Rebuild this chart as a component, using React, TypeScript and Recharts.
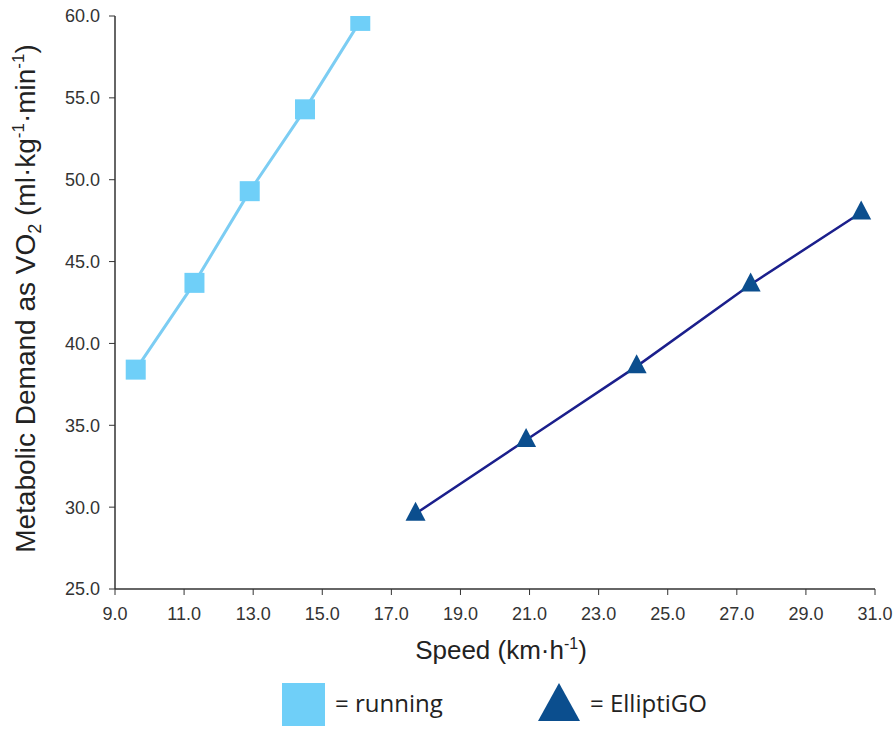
import { LineChart, Line, XAxis, YAxis, Legend } from "recharts";

const runningSpeed = [9.6, 11.3, 12.9, 14.5, 16.1];
const runningVO2 = [38.4, 43.7, 49.3, 54.3, 59.7];
const ellipticSpeed = [17.7, 20.9, 24.1, 27.4, 30.6];
const ellipticVO2 = [29.6, 34.1, 38.6, 43.6, 48.0];
const xTicks = [9, 11, 13, 15, 17, 19, 21, 23, 25, 27, 29, 31];
const yTicks = [25, 30, 35, 40, 45, 50, 55, 60];

const running = runningSpeed.map((x, i) => ({ x, y: runningVO2[i] }));
const elliptic = ellipticSpeed.map((x, i) => ({ x, y: ellipticVO2[i] }));

const RUN_LINE = "#7ccdf3";
const RUN_MARK = "#6fcff8";
const ELL_LINE = "#1b1f8c";
const ELL_MARK = "#0b4e8e";
const FONT = "Liberation Sans, Arial, sans-serif";

const SquareDot = (props: any) => {
  const { cx, cy, index } = props;
  return <rect key={index} x={cx - 10} y={cy - 10} width={20} height={20} fill={RUN_MARK} />;
};

const TriangleDot = (props: any) => {
  const { cx, cy, index } = props;
  return (
    <polygon
      key={index}
      points={`${cx},${cy - 12} ${cx + 10},${cy + 7} ${cx - 10},${cy + 7}`}
      fill={ELL_MARK}
    />
  );
};

const XLabel = (props: any) => {
  const { x, y, width } = props.viewBox;
  return (
    <text x={x + width / 2 + 6} y={y + 70} textAnchor="middle" fontSize={26} fill="#222" fontFamily={FONT}>
      Speed (km·h
      <tspan dy={-10} fontSize={16}>-1</tspan>
      <tspan dy={10}>)</tspan>
    </text>
  );
};

const YLabel = (props: any) => {
  const { y, height } = props.viewBox;
  const cx = 35;
  const cy = y + height / 2 - 4;
  return (
    <text
      x={cx}
      y={cy}
      transform={`rotate(-90, ${cx}, ${cy})`}
      textAnchor="middle"
      fontSize={28}
      fill="#222"
      fontFamily={FONT}
    >
      Metabolic Demand as VO
      <tspan dy={6} fontSize={18}>2</tspan>
      <tspan dy={-6}> (ml·kg</tspan>
      <tspan dy={-11} fontSize={17}>-1</tspan>
      <tspan dy={11}>·min</tspan>
      <tspan dy={-11} fontSize={17}>-1</tspan>
      <tspan dy={11}>)</tspan>
    </text>
  );
};

const LegendBox = () => (
  <div style={{ position: "relative", height: 50, fontFamily: "Open Sans, sans-serif", fontSize: 24, color: "#222" }}>
    <svg width={44} height={44} style={{ position: "absolute", left: 282, top: 4 }}>
      <rect x={0} y={0} width={43} height={43} fill={RUN_MARK} />
    </svg>
    <span style={{ position: "absolute", left: 335, top: 7 }}>= running</span>
    <svg width={44} height={44} style={{ position: "absolute", left: 538, top: 4 }}>
      <polygon points="21,0 42,38 0,38" fill={ELL_MARK} />
    </svg>
    <span style={{ position: "absolute", left: 590, top: 7 }}>= ElliptiGO</span>
  </div>
);

export default function App() {
  return (
    <div style={{ position: "absolute", left: 0, top: 0, background: "#fff" }}>
      <LineChart width={895} height={736} margin={{ top: 16, right: 20, left: 0, bottom: 11 }}>
        <XAxis
          type="number"
          dataKey="x"
          domain={[9, 31]}
          ticks={xTicks}
          allowDataOverflow
          tickFormatter={(v: number) => v.toFixed(1)}
          tick={{ fontSize: 18, fill: "#333", fontFamily: FONT, dy: 4 }}
          axisLine={{ stroke: "#333", strokeWidth: 1.5 }}
          tickLine={{ stroke: "#333" }}
          tickSize={6}
          tickMargin={8}
          height={86}
          label={{ content: XLabel }}
        />
        <YAxis
          type="number"
          dataKey="y"
          domain={[25, 60]}
          ticks={yTicks}
          allowDataOverflow
          tickFormatter={(v: number) => v.toFixed(1)}
          tick={{ fontSize: 18, fill: "#333", fontFamily: FONT }}
          axisLine={{ stroke: "#333", strokeWidth: 1.5 }}
          tickLine={{ stroke: "#333" }}
          tickSize={6}
          tickMargin={9}
          width={115}
          label={{ content: YLabel }}
        />
        <Legend verticalAlign="bottom" content={LegendBox} wrapperStyle={{ left: 0, width: 895, bottom: 7 }} />
        <Line
          data={running}
          dataKey="y"
          name="running"
          stroke={RUN_LINE}
          strokeWidth={3}
          dot={SquareDot}
          activeDot={false}
          isAnimationActive={false}
        />
        <Line
          data={elliptic}
          dataKey="y"
          name="ElliptiGO"
          stroke={ELL_LINE}
          strokeWidth={2.5}
          dot={TriangleDot}
          activeDot={false}
          isAnimationActive={false}
        />
      </LineChart>
    </div>
  );
}
